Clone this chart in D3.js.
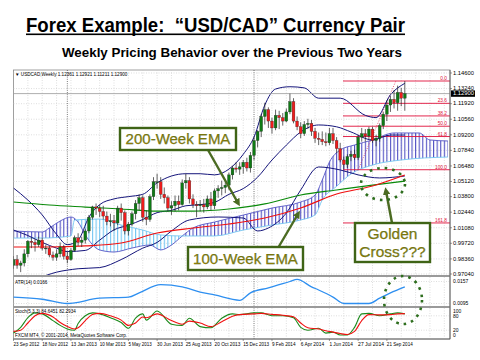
<!DOCTYPE html>
<html><head><meta charset="utf-8">
<script src="https://cdn.jsdelivr.net/npm/d3@7"></script>
<style>body{margin:0;background:#fff}svg{display:block;font-family:"Liberation Sans",Arial,sans-serif}</style>
</head><body><svg id="c" width="480" height="360"></svg>
<script>
// ---------- DATA ----------
const openP  = [0.978,0.983,0.978,0.980,0.988,0.999,0.998,0.996,1.000,0.993,0.993,0.987,0.985,0.988,0.994,0.986,0.983,0.991,1.002,0.998,1.000,1.008,1.020,1.029,1.028,1.025,1.021,1.016,1.017,1.015,1.028,1.024,1.008,1.014,1.023,1.032,1.037,1.020,1.018,1.038,1.051,1.051,1.040,1.037,1.028,1.030,1.034,1.031,1.050,1.052,1.036,1.031,1.030,1.031,1.029,1.036,1.030,1.043,1.045,1.046,1.048,1.057,1.063,1.062,1.064,1.068,1.063,1.074,1.087,1.095,1.108,1.114,1.104,1.098,1.109,1.107,1.104,1.112,1.121,1.104,1.099,1.093,1.101,1.102,1.095,1.089,1.088,1.086,1.085,1.093,1.087,1.080,1.070,1.066,1.073,1.075,1.072,1.090,1.093,1.091,1.097,1.087,1.089,1.100,1.110,1.118,1.123,1.120,1.129,1.124];
const highP  = [0.986,0.987,0.982,0.992,1.000,1.002,1.001,1.003,1.002,0.996,0.995,0.990,0.992,0.998,0.996,0.990,0.993,1.004,1.006,1.003,1.010,1.022,1.030,1.032,1.031,1.030,1.025,1.023,1.022,1.030,1.032,1.026,1.016,1.025,1.035,1.040,1.039,1.026,1.040,1.055,1.058,1.055,1.046,1.039,1.034,1.039,1.039,1.053,1.058,1.055,1.040,1.034,1.035,1.036,1.039,1.042,1.045,1.048,1.052,1.052,1.059,1.065,1.068,1.068,1.070,1.072,1.077,1.090,1.096,1.110,1.120,1.116,1.107,1.114,1.113,1.111,1.115,1.128,1.124,1.108,1.103,1.104,1.106,1.105,1.098,1.094,1.095,1.094,1.098,1.098,1.090,1.085,1.073,1.075,1.078,1.079,1.092,1.098,1.097,1.099,1.099,1.092,1.102,1.112,1.122,1.126,1.131,1.135,1.133,1.139];
const lowP   = [0.975,0.975,0.972,0.977,0.985,0.993,0.990,0.994,0.991,0.988,0.985,0.982,0.982,0.985,0.983,0.980,0.982,0.990,0.995,0.994,0.997,1.006,1.018,1.022,1.020,1.018,1.013,1.012,1.008,1.013,1.017,1.005,1.004,1.012,1.018,1.026,1.016,1.013,1.016,1.035,1.045,1.036,1.032,1.025,1.022,1.025,1.026,1.030,1.045,1.032,1.028,1.020,1.025,1.024,1.027,1.026,1.027,1.037,1.039,1.041,1.044,1.053,1.059,1.057,1.058,1.060,1.059,1.070,1.081,1.090,1.101,1.098,1.093,1.096,1.097,1.100,1.103,1.110,1.102,1.096,1.089,1.091,1.097,1.091,1.085,1.083,1.083,1.082,1.083,1.084,1.076,1.068,1.062,1.063,1.069,1.070,1.070,1.086,1.086,1.088,1.085,1.082,1.086,1.097,1.104,1.112,1.115,1.113,1.117,1.113];
const closeP = [0.983,0.978,0.980,0.988,0.999,0.998,0.996,1.000,0.993,0.993,0.987,0.985,0.988,0.994,0.986,0.983,0.991,1.002,0.998,1.000,1.008,1.020,1.029,1.028,1.025,1.021,1.016,1.017,1.015,1.028,1.024,1.008,1.014,1.023,1.032,1.037,1.020,1.018,1.038,1.051,1.051,1.040,1.037,1.028,1.030,1.034,1.031,1.050,1.052,1.036,1.031,1.030,1.031,1.029,1.036,1.030,1.043,1.045,1.046,1.048,1.057,1.063,1.062,1.064,1.068,1.063,1.074,1.087,1.095,1.108,1.114,1.104,1.098,1.109,1.107,1.104,1.112,1.121,1.104,1.099,1.093,1.101,1.102,1.095,1.089,1.088,1.086,1.085,1.093,1.087,1.080,1.070,1.066,1.073,1.075,1.072,1.090,1.093,1.091,1.097,1.087,1.089,1.100,1.110,1.118,1.123,1.120,1.129,1.124,1.128];

const dateLabels = ["23 Sep 2012","18 Nov 2012","13 Jan 2013","10 Mar 2013","5 May 2013","30 Jun 2013","25 Aug 2013","20 Oct 2013","15 Dec 2013","9 Feb 2014","6 Apr 2014","1 Jun 2014","27 Jul 2014","21 Sep 2014"];
const dateWeeks  = [0,8,16,24,32,40,48,56,64,72,80,88,96,104];
const priceTicks = ["1.14600","1.13240","1.11920","1.10560","1.09200","1.07840","1.06480","1.05120","1.03800","1.02440","1.01080","0.99720","0.98360","0.97040"];

// EMA lines (sampled weeks)
const emaWeeks = [0,10,20,30,40,50,60,70,80,90,100,109];
const ema200   = [1.0333,1.0307,1.0289,1.0272,1.0254,1.0254,1.0272,1.0316,1.0394,1.0438,1.0481,1.0516];
const ema100   = [0.9940,0.9940,0.9949,0.9975,1.0062,1.0106,1.0141,1.0193,1.0281,1.0403,1.0473,1.0569];

// Bollinger bands (sampled)
const bbUpW  = [0,4,8,12,15,18,21,24,28,32,36,40,44,48,52,56,60,64,67,70,73,77,81,85,91,98,101,105,109];
const bbUp   = [1.0455,1.035,1.022,1.005,0.996,1.000,1.020,1.031,1.036,1.038,1.040,1.050,1.056,1.058,1.058,1.057,1.062,1.075,1.090,1.118,1.132,1.134,1.133,1.124,1.124,1.109,1.107,1.127,1.137];
const bbMidW = [0,4,8,12,15,20,24,28,32,36,40,44,48,52,56,60,64,68,72,76,80,85,90,94,100,105,109];
const bbMid  = [1.0088,1.004,0.998,0.993,0.990,0.991,1.000,1.009,1.013,1.018,1.024,1.026,1.030,1.031,1.033,1.040,1.045,1.055,1.070,1.083,1.0945,1.1006,1.099,1.0945,1.0875,1.0918,1.0918];
const bbLowW = [0,6,12,18,24,30,36,40,44,49,57,64,68,71,76,80,85,91,96,102,109];
const bbLow  = [0.962,0.966,0.972,0.975,0.976,0.983,0.993,0.998,1.008,1.0176,1.0202,1.0193,1.008,1.0106,1.0237,1.0438,1.0639,1.0613,1.057,1.0543,1.056];

// Ichimoku spans (sampled; cloud runs ahead of price)
const spanAW = [0,8,10,13,16,18,20,24,28,33,38,41,44,47,50,56,64,72,80,84,86,88,91,95,100,106,113,116,121];
const spanA  = [1.0080,1.0071,1.0106,1.0167,1.0202,1.0158,1.0045,0.9914,0.9896,0.9931,0.9957,0.9914,0.9957,1.0036,1.0106,1.0158,1.0219,1.0280,1.0333,1.0394,1.0525,1.0682,1.0787,1.0831,1.0875,1.0936,1.0936,1.0875,1.0866];
const spanBW = [0,8,16,17,24,30,36,41,47,56,64,72,80,84,86,90,94,100,108,121];
const spanB  = [1.0018,1.0018,1.0036,1.0176,1.0184,1.0132,1.0088,1.0045,1.0036,1.0036,1.0088,1.0132,1.0176,1.0220,1.0350,1.0470,1.0578,1.0656,1.0700,1.0726];

// ATR (sampled)
const atrWeeks = [0,8,15,24,32,35,41,47,52,56,63,66,71,77,79,83,85,89,92,95,99,102,105,109];
const atrVals  = [0.0113,0.0107,0.0095,0.0110,0.0113,0.0125,0.0148,0.0142,0.0127,0.0119,0.0104,0.0125,0.0139,0.0157,0.0163,0.0142,0.0133,0.0113,0.0095,0.0095,0.0095,0.0110,0.0125,0.0142];

// Stochastic (sampled)
const stWeeks  = [0,2,4,6,8,11,13,15,17,18,20,22,24,27,30,32,34,36,37,40,44,47,49,52,55,58,61,63,67,69,72,75,78,80,82,85,87,89,91,93,95,97,99,102,105,107,109];
const stMain   = [8,32,72,92,88,60,40,25,20,48,80,92,88,72,52,28,70,88,62,100,45,40,70,35,30,70,88,85,92,92,80,80,72,32,20,28,8,12,0,0,32,88,90,80,88,92,88];
const stSignal = [15,20,50,80,90,75,52,35,25,30,60,85,90,80,62,40,50,75,72,88,60,45,58,50,35,55,78,85,88,90,86,82,76,50,30,25,18,12,6,2,15,60,85,84,85,88,89];

// ---------- DRAW ----------
const svg = d3.select("#c");
const L = 13.5, R = 450;
const x = d3.scaleLinear().domain([0,104]).range([13.5, 13.5+3.59*104]);
const y = d3.scaleLinear().domain([0.9704,1.146]).range([274,73]);
const yA = d3.scaleLinear().domain([0.0095,0.0157]).range([303.5,281.5]);
const yS = d3.scaleLinear().domain([0,100]).range([335,311]);
const cv = d3.curveMonotoneX;
const pts = (ws,vs)=>ws.map((w,i)=>[w,vs[i]]);

const defs = svg.append("defs");
function hatch(id,color){
  const p = defs.append("pattern").attr("id",id).attr("patternUnits","userSpaceOnUse")
    .attr("x",13).attr("width",x(1)-x(0)).attr("height",10);
  p.append("rect").attr("x",0).attr("y",0).attr("width",1.1).attr("height",10).attr("fill",color);
}
hatch("hUp","#5353c4"); hatch("hDn","#74c6f2");
defs.append("clipPath").attr("id","mainClip").append("rect").attr("x",L).attr("y",70).attr("width",R-L).attr("height",205);
const mk = defs.append("marker").attr("id","arr").attr("viewBox","0 0 10 10").attr("refX",5).attr("refY",5)
  .attr("markerWidth",3.2).attr("markerHeight",3.2).attr("orient","auto-start-reverse");
mk.append("path").attr("d","M0,0L10,5L0,10z").attr("fill","#4b6b22");

// Titles
svg.append("text").attr("x",26).attr("y",32).attr("font-size",19.5).attr("font-weight","bold").attr("xml:space","preserve")
  .attr("textLength",379).attr("lengthAdjust","spacingAndGlyphs").text("Forex Example:  \u201cUSD/CAD\u201d Currency Pair");
svg.append("rect").attr("x",26).attr("y",33.5).attr("width",379).attr("height",1.6).attr("fill","#000");
svg.append("text").attr("x",62).attr("y",57).attr("font-size",13).attr("font-weight","bold")
  .attr("textLength",340).attr("lengthAdjust","spacingAndGlyphs").text("Weekly Pricing Behavior over the Previous Two Years");

// Frame & grid
const g = svg.append("g");
g.append("rect").attr("x",L).attr("y",70).attr("width",R-L).attr("height",269).attr("fill","#fff").attr("stroke","#888").attr("stroke-width",0.8);
const gridW = d3.range(4,121,4);
[[70,275],[277,306],[308,338]].forEach(([a,b])=>{
  g.selectAll(null).data(gridW).enter().append("line").attr("x1",d=>x(d)).attr("x2",d=>x(d)).attr("y1",a).attr("y2",b)
    .attr("stroke","#c8c8c8").attr("stroke-width",0.6).attr("stroke-dasharray","1,1.5");
});
g.selectAll(null).data(priceTicks).enter().append("line").attr("x1",L).attr("x2",R).attr("y1",d=>y(+d)).attr("y2",d=>y(+d))
  .attr("stroke","#c8c8c8").attr("stroke-width",0.6).attr("stroke-dasharray","1,1.5");
[yA(0.0157),yA(0.0095),yS(80),yS(20)].forEach(v=>g.append("line").attr("x1",L).attr("x2",R).attr("y1",v).attr("y2",v)
  .attr("stroke","#c8c8c8").attr("stroke-width",0.6).attr("stroke-dasharray","1,1.5"));
[15,67].forEach(w=>g.append("line").attr("x1",x(w)).attr("x2",x(w)).attr("y1",70).attr("y2",339)
  .attr("stroke","#444").attr("stroke-width",0.7).attr("stroke-dasharray","1,1.2"));

// Main panel
const mp = svg.append("g").attr("clip-path","url(#mainClip)");
const lineA = d3.line().x(d=>x(d[0])).y(d=>y(d[1])).curve(cv);
const pA = pts(spanAW,spanA), pB = pts(spanBW,spanB);
const bAbove = lineA(pB) + `L${x(121)},60L${x(0)},60Z`;
const bBelow = lineA(pB) + `L${x(121)},290L${x(0)},290Z`;
defs.append("clipPath").attr("id","aboveB").append("path").attr("d",bAbove);
defs.append("clipPath").attr("id","belowB").append("path").attr("d",bBelow);
const aPath = lineA(pA);
const cloudUp = aPath + `L${x(121)},290L${x(0)},290Z`;
const cloudDn = aPath + `L${x(121)},60L${x(0)},60Z`;
mp.append("g").attr("clip-path","url(#aboveB)").append("path").attr("d",cloudUp).attr("fill","url(#hUp)");
mp.append("g").attr("clip-path","url(#belowB)").append("path").attr("d",cloudDn).attr("fill","url(#hDn)");
mp.append("path").attr("d",aPath).attr("fill","none").attr("stroke","#5353c4").attr("stroke-width",0.9);
mp.append("path").attr("d",lineA(pB)).attr("fill","none").attr("stroke","#74c6f2").attr("stroke-width",0.9);

// Fibonacci
const fibLabels = ["0.0","23.6","38.2","50.0","61.8","100.0","161.8"];
const fibLevels = [1.1390,1.1195,1.1085,1.0995,1.0905,1.0615,1.0150];
fibLevels.forEach((v,i)=>{
  mp.append("line").attr("x1",343).attr("x2",R).attr("y1",y(v)).attr("y2",y(v)).attr("stroke","#e0103a").attr("stroke-width",0.9);
  svg.append("text").attr("x",447).attr("y",y(v)-1).attr("text-anchor","end").attr("font-size",4.8).attr("fill","#e0103a").text(fibLabels[i]);
});
mp.append("line").attr("x1",x(96)).attr("y1",y(1.0615)).attr("x2",x(106.5)).attr("y2",y(1.139))
  .attr("stroke","#e0103a").attr("stroke-width",0.7).attr("stroke-dasharray","1,1.5");

// Bollinger
[[bbUpW,bbUp],[bbMidW,bbMid],[bbLowW,bbLow]].forEach(([w,v])=>mp.append("path").attr("d",lineA(pts(w,v)))
  .attr("fill","none").attr("stroke","#14147a").attr("stroke-width",1));

// EMAs
mp.append("path").attr("d",lineA(pts(emaWeeks,ema200))).attr("fill","none").attr("stroke","#0a8a0a").attr("stroke-width",1.2);
mp.append("path").attr("d",lineA(pts(emaWeeks,ema100))).attr("fill","none").attr("stroke","#f01010").attr("stroke-width",1.2);

// bid line
const lastC = closeP[closeP.length-1];
mp.append("line").attr("x1",L).attr("x2",R).attr("y1",y(lastC)).attr("y2",y(lastC)).attr("stroke","#999").attr("stroke-width",0.8);

// Candles
const cd = openP.map((o,i)=>({i,o,h:highP[i],l:lowP[i],c:closeP[i]}));
const cg = mp.append("g");
cg.selectAll("line").data(cd).enter().append("line").attr("x1",d=>x(d.i)).attr("x2",d=>x(d.i))
  .attr("y1",d=>y(d.h)).attr("y2",d=>y(d.l)).attr("stroke","#222").attr("stroke-width",0.7);
cg.selectAll("rect").data(cd).enter().append("rect").attr("x",d=>x(d.i)-1.4).attr("width",2.8)
  .attr("y",d=>y(Math.max(d.o,d.c))).attr("height",d=>Math.max(0.8,Math.abs(y(d.o)-y(d.c))))
  .attr("fill",d=>d.c>=d.o?"#0f7a14":"#ee1c1c").attr("stroke","#222").attr("stroke-width",0.3);

// ATR panel
svg.append("path").attr("d",d3.line().x(d=>x(d[0])).y(d=>yA(d[1])).curve(cv)(pts(atrWeeks,atrVals))).attr("fill","none").attr("stroke","#2e8ff0").attr("stroke-width",1.3);
// Stoch panel
const lineS = d3.line().x(d=>x(d[0])).y(d=>yS(d[1])).curve(cv);
svg.append("path").attr("d",lineS(pts(stWeeks,stMain))).attr("fill","none").attr("stroke","#1c8a1c").attr("stroke-width",1.1);
svg.append("path").attr("d",lineS(pts(stWeeks,stSignal))).attr("fill","none").attr("stroke","#f01010").attr("stroke-width",1.1);

// Panel separators & axis
[[275,277],[306,308]].forEach(([a,b])=>svg.append("rect").attr("x",L).attr("y",a).attr("width",R-L).attr("height",b-a).attr("fill","#9a9a9a"));
svg.append("line").attr("x1",R).attr("x2",R).attr("y1",70).attr("y2",339).attr("stroke","#555").attr("stroke-width",0.8);
svg.append("line").attr("x1",L).attr("x2",R).attr("y1",339).attr("y2",339).attr("stroke","#555").attr("stroke-width",0.8);

// Axis labels
const fs = 5;
svg.selectAll(null).data(priceTicks).enter().append("text").attr("x",453).attr("y",d=>y(+d)+1.8).attr("font-size",fs)
  .attr("textLength",21).attr("lengthAdjust","spacingAndGlyphs").text(d=>d);
svg.selectAll(null).data(priceTicks).enter().append("line").attr("x1",R).attr("x2",R+2).attr("y1",d=>y(+d)).attr("y2",d=>y(+d)).attr("stroke","#555").attr("stroke-width",0.6);
svg.append("rect").attr("x",451).attr("y",y(lastC)-3.2).attr("width",24).attr("height",6.4).attr("fill","#000");
svg.append("text").attr("x",453).attr("y",y(lastC)+1.8).attr("font-size",fs).attr("fill","#fff")
  .attr("textLength",21).attr("lengthAdjust","spacingAndGlyphs").text("1.12900");
[["0.0157",0.0157],["0.0095",0.0095]].forEach(([t,v])=>svg.append("text").attr("x",453).attr("y",yA(v)+1.8).attr("font-size",fs).text(t));
[["100",100],["80",80],["20",20],["0",0]].forEach(([t,v])=>svg.append("text").attr("x",453).attr("y",yS(v)+1.8).attr("font-size",fs).text(t));
svg.selectAll(null).data(dateWeeks).enter().append("text").attr("x",d=>x(d)).attr("y",346).attr("font-size",4.6)
  .attr("textLength",(d,i)=>dateLabels[i].length*2.35).attr("lengthAdjust","spacingAndGlyphs").text((d,i)=>dateLabels[i]);
svg.selectAll(null).data(dateWeeks).enter().append("line").attr("x1",d=>x(d)).attr("x2",d=>x(d)).attr("y1",339).attr("y2",341).attr("stroke","#555").attr("stroke-width",0.6);

svg.append("text").attr("x",15).attr("y",76).attr("font-size",4.6).text("\u25bc USDCAD,Weekly  1.12361 1.12921 1.11211 1.12900");
svg.append("text").attr("x",15).attr("y",284).attr("font-size",4.6).text("ATR(14) 0.0166");
svg.append("text").attr("x",15).attr("y",313).attr("font-size",4.6).text("Stoch(5,3,3) 84.6451 82.2934");
svg.append("text").attr("x",15).attr("y",337).attr("font-size",4.6).text("FXCM MT4, \u00a9 2001-2014, MetaQuotes Software Corp.");

// Annotations
const ann = svg.append("g");
const txtCol = "#8c7d0a", boxCol = "#3f6416";
function box(x0,y0,w,h,lines,fsz){
  ann.append("rect").attr("x",x0).attr("y",y0).attr("width",w).attr("height",h).attr("fill","#fff").attr("stroke",boxCol).attr("stroke-width",2.4);
  lines.forEach((t,i)=>ann.append("text").attr("x",x0+w/2).attr("y",y0+h/2+fsz*0.36+(i-(lines.length-1)/2)*fsz*1.2)
    .attr("text-anchor","middle").attr("font-size",fsz).attr("fill",txtCol).attr("stroke","#3f6416").attr("stroke-width",0.25).text(t));
}
function arrow(x1,y1,x2,y2){
  ann.append("line").attr("x1",x1).attr("y1",y1).attr("x2",x2).attr("y2",y2).attr("stroke","#4b6b22").attr("stroke-width",2.4).attr("marker-end","url(#arr)");
}
arrow(208,150,238,203);
arrow(278,248,298,214);
arrow(392,223,386,191);
box(120,128,116,22,["200-Week EMA"],15);
box(188,247,115,23,["100-Week EMA"],15);
box(355,223,75,39,["Golden","Cross???"],15.5);
ann.append("ellipse").attr("cx",383).attr("cy",184).attr("rx",22).attr("ry",16).attr("fill","none").attr("stroke","#2e6e1e").attr("stroke-width",2.6).attr("stroke-dasharray","2.6,5");
ann.append("ellipse").attr("cx",403).attr("cy",300).attr("rx",19).attr("ry",24).attr("fill","none").attr("stroke","#2e6e1e").attr("stroke-width",2.6).attr("stroke-dasharray","2.6,5");
</script></body></html>
